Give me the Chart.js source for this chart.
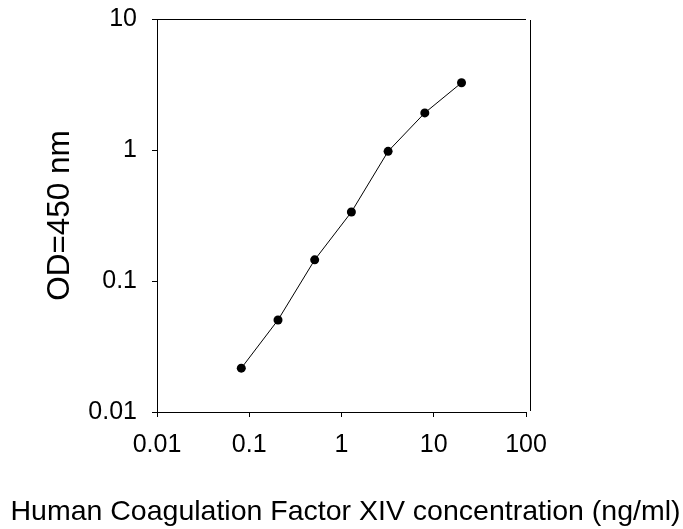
<!DOCTYPE html>
<html>
<head>
<meta charset="utf-8">
<script src="https://cdn.jsdelivr.net/npm/chart.js@4/dist/chart.umd.min.js"></script>
<style>
  body { margin: 0; background: #fff; }
  #wrap { width: 683px; height: 529px; position: relative; }
</style>
</head>
<body>
<div id="wrap"><canvas id="elisa-chart"></canvas></div>
<script>
const concentration = [0.082, 0.205, 0.512, 1.28, 3.2, 8, 20];
const od450 = [0.0216, 0.0504, 0.145, 0.336, 0.977, 1.92, 3.26];
const xTicks = [0.01, 0.1, 1, 10, 100];
const yTicks = [0.01, 0.1, 1, 10];

const points = concentration.map((c, i) => ({ x: c, y: od450[i] }));

// top and right edges of the plot box
const frame = {
    id: 'frame',
    afterDraw(chart) {
        const a = chart.chartArea;
        const c = chart.ctx;
        c.save();
        c.strokeStyle = '#000';
        c.lineWidth = 1;
        c.beginPath();
        c.moveTo(a.left, a.top + 0.5);
        c.lineTo(a.right, a.top + 0.5);
        c.moveTo(a.right + 4.5, a.top + 1);
        c.lineTo(a.right + 4.5, a.bottom - 1);
        c.stroke();
        c.restore();
    }
};

const fontFamily = 'Liberation Sans, Arial, sans-serif';
const tickFont = { family: fontFamily, size: 25 };

const ctx = document.getElementById('elisa-chart').getContext('2d');
const myChart = new Chart(ctx, {
    type: 'scatter',
    data: {
        datasets: [{
            label: 'OD',
            data: points,
            showLine: true,
            borderColor: '#000',
            borderWidth: 1,
            backgroundColor: '#000',
            pointRadius: 4.5,
            pointBorderWidth: 0,
            yAxisID: 'y'
        }]
    },
    options: {
        responsive: true,
        maintainAspectRatio: false,
        animation: false,
        layout: {
            padding: { top: 19, right: 0, left: 8, bottom: 0 }
        },
        plugins: {
            legend: { display: false },
            tooltip: { enabled: false },
            title: {
                display: true,
                position: 'bottom',
                text: 'Human Coagulation Factor XIV concentration (ng/ml)',
                color: '#000',
                font: { family: fontFamily, size: 28.5, weight: 'normal' },
                padding: { top: 0, bottom: 0 }
            }
        },
        scales: {
            x: {
                type: 'logarithmic',
                min: 0.01,
                max: 100,
                afterBuildTicks: (scale) => { scale.ticks = xTicks.map(v => ({ value: v })); },
                afterFit: (scale) => { scale.height = 82.8; },
                grid: { drawOnChartArea: false, drawTicks: true, tickLength: 5, color: '#000' },
                border: { color: '#000', width: 1 },
                ticks: {
                    color: '#000',
                    font: tickFont,
                    padding: 13,
                    maxRotation: 0,
                    autoSkip: false,
                    callback: (value) => String(value)
                }
            },
            y: {
                type: 'logarithmic',
                min: 0.01,
                max: 10,
                afterBuildTicks: (scale) => { scale.ticks = yTicks.map(v => ({ value: v })); },
                afterFit: (scale) => {
                    scale.width = 149;
                    scale.paddingTop = 0;
                    scale.paddingBottom = 0;
                },
                grid: { drawOnChartArea: false, drawTicks: true, tickLength: 5, color: '#000' },
                border: { color: '#000', width: 1 },
                ticks: {
                    color: '#000',
                    font: tickFont,
                    padding: 15,
                    autoSkip: false,
                    callback: (value) => String(value)
                },
                title: {
                    display: true,
                    text: 'OD=450 nm',
                    color: '#000',
                    font: { family: fontFamily, size: 31.5 },
                    padding: { top: 33, bottom: 0 }
                }
            },
            // empty axis that only reserves the right margin
            yRight: {
                type: 'logarithmic',
                position: 'right',
                min: 0.01,
                max: 10,
                afterFit: (scale) => {
                    scale.width = 157;
                    scale.paddingTop = 0;
                    scale.paddingBottom = 0;
                },
                grid: { display: false },
                border: { display: false },
                ticks: { display: false }
            }
        }
    },
    plugins: [frame]
});
</script>
</body>
</html>
